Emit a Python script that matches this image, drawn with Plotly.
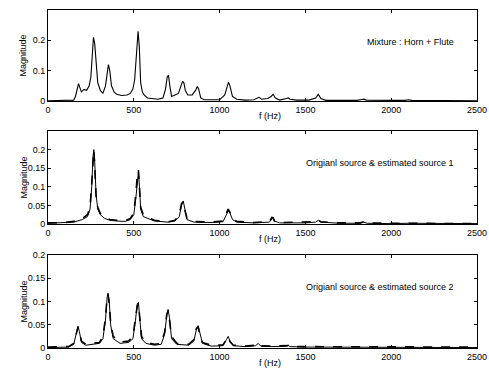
import plotly.graph_objects as go

# ---- Panel 1: mixture (Horn + Flute) ----
mix_f = [0, 100, 140, 150, 160, 170, 178, 185, 195, 210, 225, 240, 250, 258, 265, 272, 280, 290, 305,
         320, 335, 345, 352, 360, 370, 385, 400, 430, 460, 480, 495, 505, 515, 525, 532, 540, 550,
         560, 580, 600, 640, 670, 685, 695, 702, 710, 720, 740, 760, 775, 785, 792, 800, 815, 840,
         860, 870, 878, 890, 910, 950, 1000, 1030, 1045, 1052, 1060, 1075, 1100, 1150, 1200, 1220,
         1230, 1245, 1280, 1300, 1312, 1325, 1350, 1390, 1400, 1410, 1450, 1520, 1560, 1575, 1590,
         1620, 1700, 1800, 1830, 1840, 1855, 1900, 2000, 2080, 2100, 2120, 2200, 2300, 2400, 2500]
mix_m = [0.001, 0.001, 0.001, 0.003, 0.015, 0.04, 0.057, 0.045, 0.03, 0.038, 0.035, 0.05, 0.08, 0.15,
         0.21, 0.19, 0.12, 0.06, 0.035, 0.025, 0.05, 0.1, 0.12, 0.1, 0.05, 0.03, 0.022, 0.018, 0.02,
         0.025, 0.04, 0.07, 0.15, 0.23, 0.18, 0.06, 0.03, 0.02, 0.01, 0.008, 0.006, 0.01, 0.04, 0.08,
         0.085, 0.05, 0.015, 0.02, 0.025, 0.05, 0.065, 0.06, 0.035, 0.02, 0.02, 0.035, 0.048, 0.04,
         0.01, 0.004, 0.003, 0.004, 0.02, 0.055, 0.062, 0.05, 0.015, 0.006, 0.003, 0.004, 0.01, 0.012,
         0.006, 0.008, 0.015, 0.022, 0.01, 0.003, 0.008, 0.01, 0.006, 0.003, 0.003, 0.01, 0.022, 0.008,
         0.002, 0.002, 0.002, 0.005, 0.006, 0.003, 0.002, 0.002, 0.002, 0.004, 0.002, 0.002, 0.001,
         0.001, 0.001]

# ---- Panel 2: source 1 (original solid, estimated dashed) ----
s1_f = [0, 100, 150, 200, 230, 245, 255, 262, 267, 272, 280, 290, 305, 330, 360, 400, 450, 480, 500,
        512, 520, 527, 533, 540, 555, 580, 620, 700, 740, 765, 778, 788, 796, 810, 850, 950, 1020,
        1038, 1050, 1060, 1075, 1100, 1200, 1290, 1305, 1312, 1320, 1350, 1500, 1560, 1575, 1590,
        1700, 1820, 1840, 1860, 2000, 2100, 2500]
s1_orig = [0.002, 0.003, 0.005, 0.012, 0.02, 0.04, 0.1, 0.18, 0.2, 0.17, 0.08, 0.04, 0.025, 0.015,
           0.01, 0.008, 0.007, 0.012, 0.025, 0.07, 0.12, 0.14, 0.1, 0.04, 0.02, 0.015, 0.008, 0.005,
           0.008, 0.02, 0.05, 0.062, 0.045, 0.012, 0.005, 0.004, 0.006, 0.025, 0.035, 0.03, 0.012,
           0.005, 0.003, 0.005, 0.015, 0.018, 0.008, 0.003, 0.003, 0.005, 0.01, 0.005, 0.002, 0.002,
           0.005, 0.002, 0.001, 0.002, 0.001]
s1_est = [0.003, 0.004, 0.007, 0.015, 0.025, 0.045, 0.11, 0.19, 0.198, 0.16, 0.075, 0.045, 0.028,
          0.018, 0.012, 0.01, 0.009, 0.015, 0.03, 0.08, 0.13, 0.145, 0.09, 0.045, 0.025, 0.018, 0.01,
          0.006, 0.01, 0.025, 0.055, 0.06, 0.04, 0.015, 0.007, 0.005, 0.008, 0.03, 0.04, 0.032, 0.015,
          0.007, 0.004, 0.006, 0.018, 0.016, 0.007, 0.004, 0.004, 0.006, 0.01, 0.006, 0.003, 0.003,
          0.006, 0.003, 0.002, 0.002, 0.001]

# ---- Panel 3: source 2 (original solid, estimated dashed) ----
s2_f = [0, 120, 150, 165, 175, 183, 195, 220, 260, 300, 320, 335, 345, 350, 357, 365, 380, 420, 470,
        495, 510, 520, 527, 535, 545, 570, 620, 660, 680, 692, 700, 708, 720, 750, 820, 850, 865,
        875, 885, 900, 950, 1020, 1040, 1050, 1060, 1080, 1150, 1210, 1225, 1240, 1300, 1390, 1400,
        1410, 1500, 2000, 2500]
s2_orig = [0.001, 0.002, 0.008, 0.03, 0.047, 0.035, 0.012, 0.006, 0.008, 0.01, 0.02, 0.06, 0.11,
           0.118, 0.1, 0.05, 0.02, 0.01, 0.012, 0.02, 0.06, 0.095, 0.098, 0.06, 0.02, 0.01, 0.006,
           0.008, 0.03, 0.07, 0.083, 0.065, 0.02, 0.008, 0.006, 0.015, 0.04, 0.048, 0.03, 0.01, 0.004,
           0.005, 0.018, 0.025, 0.015, 0.005, 0.003, 0.005, 0.01, 0.004, 0.003, 0.004, 0.006, 0.003,
           0.002, 0.002, 0.001]
s2_est = [0.002, 0.003, 0.01, 0.033, 0.045, 0.033, 0.015, 0.008, 0.01, 0.012, 0.025, 0.065, 0.112,
          0.115, 0.095, 0.055, 0.025, 0.013, 0.015, 0.025, 0.065, 0.09, 0.095, 0.055, 0.025, 0.012,
          0.008, 0.01, 0.035, 0.072, 0.08, 0.06, 0.025, 0.01, 0.008, 0.018, 0.042, 0.045, 0.028,
          0.012, 0.006, 0.007, 0.02, 0.024, 0.014, 0.006, 0.004, 0.006, 0.01, 0.005, 0.004, 0.005,
          0.005, 0.003, 0.003, 0.003, 0.002]

panel_texts = ["Mixture : Horn + Flute",
               "Origianl source & estimated source 1",
               "Origianl source & estimated source 2"]
x_ticks = [0, 500, 1000, 1500, 2000, 2500]
y_ticks = [[0, 0.1, 0.2], [0, 0.05, 0.1, 0.15, 0.2], [0, 0.05, 0.1, 0.15, 0.2]]
y_ranges = [[0, 0.3], [0, 0.25], [0, 0.2]]

FONT = "Liberation Sans, Arial, sans-serif"
W, H = 489, 373
L, R, T, B = 48, 12, 10, 25
PW, PH = W - L - R, H - T - B

fig = go.Figure()
fig.add_trace(go.Scatter(x=mix_f, y=mix_m, mode="lines", line=dict(color="black", width=1.1),
                         xaxis="x", yaxis="y"))
fig.add_trace(go.Scatter(x=s1_f, y=s1_orig, mode="lines", line=dict(color="black", width=1),
                         xaxis="x2", yaxis="y2"))
fig.add_trace(go.Scatter(x=s1_f, y=s1_est, mode="lines", line=dict(color="black", width=1.6, dash="dash"),
                         xaxis="x2", yaxis="y2"))
fig.add_trace(go.Scatter(x=s2_f, y=s2_orig, mode="lines", line=dict(color="black", width=1),
                         xaxis="x3", yaxis="y3"))
fig.add_trace(go.Scatter(x=s2_f, y=s2_est, mode="lines", line=dict(color="black", width=1.6, dash="dash"),
                         xaxis="x3", yaxis="y3"))

tops = [10, 131, 255]
bottoms = [101, 224, 348]
layout = dict(width=W, height=H, margin=dict(l=L, r=R, t=T, b=B, autoexpand=False),
              paper_bgcolor="white", plot_bgcolor="white", showlegend=False,
              font=dict(family=FONT, size=9, color="black"))
for i in range(3):
    sx = "" if i == 0 else str(i + 1)
    common = dict(showline=True, linecolor="black", linewidth=1, mirror="ticks", ticks="inside",
                  ticklen=3, tickcolor="black", showgrid=False, zeroline=False, automargin=False,
                  tickfont=dict(family=FONT, size=9, color="black"))
    dom = [(H - B - bottoms[i]) / PH, (H - B - tops[i]) / PH]
    layout["xaxis" + sx] = dict(domain=[0, 1], range=[0, 2500], tickvals=x_ticks,
                                anchor="y" + sx, **common)
    layout["yaxis" + sx] = dict(domain=dom, range=y_ranges[i], tickvals=y_ticks[i],
                                anchor="x" + sx, **common)
fig.update_layout(**layout)


def px2paper(px_x, px_y):
    return (px_x - L) / PW, (H - B - px_y) / PH


ann = []
for i in range(3):
    x, y = px2paper(270, bottoms[i] + 15)
    ann.append(dict(text="f (Hz)", x=x, y=y, xref="paper", yref="paper", showarrow=False,
                    xanchor="center", yanchor="middle", font=dict(family=FONT, size=9, color="black")))
    x, y = px2paper(23, (tops[i] + bottoms[i]) / 2)
    ann.append(dict(text="Magnitude", x=x, y=y, xref="paper", yref="paper", showarrow=False,
                    textangle=-90, xanchor="center", yanchor="middle",
                    font=dict(family=FONT, size=9, color="black")))
text_y = [42, 163, 287]
for i in range(3):
    x, y = px2paper(456, text_y[i])
    ann.append(dict(text=panel_texts[i], x=x, y=y, xref="paper", yref="paper", showarrow=False,
                    xanchor="right", yanchor="middle", font=dict(family=FONT, size=9, color="black")))
fig.update_layout(annotations=ann)

fig.write_html("out.html", config={"displayModeBar": False, "staticPlot": True},
               post_script="document.body.style.margin='0';document.body.style.overflow='hidden';")
